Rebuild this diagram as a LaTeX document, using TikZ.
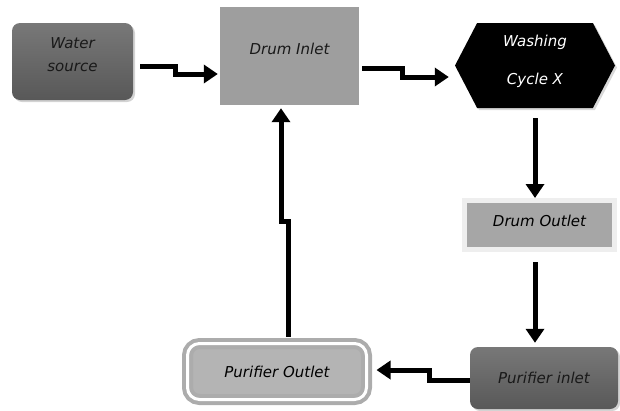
\documentclass[tikz,border=0pt]{standalone}
\usepackage{fontspec}
\setmainfont{DejaVu Sans}
\usetikzlibrary{arrows.meta,positioning,shapes.symbols,shadows}

\definecolor{srctop}{RGB}{120,120,120}
\definecolor{srcbot}{RGB}{88,88,88}
\definecolor{drumgray}{RGB}{158,158,158}
\definecolor{outgray}{RGB}{166,166,166}
\definecolor{framelight}{RGB}{238,238,238}
\definecolor{ringgray}{RGB}{172,172,172}
\definecolor{puregray}{RGB}{180,180,180}

\begin{document}
\begin{tikzpicture}[x=1pt,y=1pt,>={Triangle[width=18pt,length=14pt]},
                    font=\fontsize{15}{18}\selectfont\itshape]
  \tikzset{flow/.style={->,line width=5pt,black},
           darkbox/.style={rounded corners=8pt,top color=srctop,bottom color=srcbot,
                           text=black!90,align=center,
                           drop shadow={opacity=0.35,shadow xshift=2pt,shadow yshift=-2pt}}}
  \useasboundingbox (0,0) rectangle (620,-410);

  \node[darkbox,minimum width=121pt,minimum height=77pt,text depth=14pt]
        (water) at (72.5,-61.5) {Water\\[5pt]source};
  \node[fill=drumgray,text=black!90,minimum width=139pt,minimum height=98pt,
        text depth=14pt]
        (inlet) at (289.5,-56) {Drum Inlet};
  \node[signal,signal to=west and east,signal pointer angle=125,fill=black,
        text=white,align=center,inner sep=0pt,text depth=12pt,
        minimum width=160pt,minimum height=85pt,
        drop shadow={opacity=0.3,shadow xshift=2pt,shadow yshift=-2pt}]
        (wash) at (535,-65.5) {Washing\\[20pt]Cycle X};
  \node[fill=outgray,draw=framelight,line width=5pt,text=black,text depth=8pt,
        minimum width=150pt,minimum height=49pt,
        drop shadow={opacity=0.3,shadow xshift=2pt,shadow yshift=-2pt}]
        (outlet) at (539.5,-225) {Drum Outlet};
  \node[darkbox,minimum width=148pt,minimum height=62pt]
        (purin) at (544,-378) {Purifier inlet};
  \node[fill=puregray,draw=ringgray,double=white,double distance=3pt,
        line width=4pt,rounded corners=12pt,text=black,
        minimum width=179pt,minimum height=56pt]
        (purout) at (277,-371.5) {Purifier Outlet};

  % connectors
  \draw[flow] ([xshift=7pt,yshift=-4.5pt]water.east) -- ++(35pt,0)
        -- ++(0,-8pt) -- ([xshift=-2pt,yshift=-18pt]inlet.west);
  \draw[flow] ([xshift=3pt,yshift=-12pt]inlet.east) -- ++(40pt,0)
        -- ++(0,-9pt) -- ([xshift=-6pt,yshift=-11.5pt]wash.west);
  \draw[flow,shorten <=10pt] (wash.south) -- (wash.south |- outlet.north);
  \draw[flow,shorten <=10pt,shorten >=4pt] (wash.south |- outlet.south)
        -- (wash.south |- purin.north);
  \draw[flow] ([yshift=-2pt]purin.west) -- ++(-40pt,0) -- ++(0,10pt)
        -- ([xshift=8pt,yshift=1.5pt]purout.east);
  \draw[flow] ([xshift=11pt,yshift=5pt]purout.north) -- ++(0,115pt)
        -- ++(-7pt,0) -- ([xshift=-8.5pt,yshift=-3pt]inlet.south);
\end{tikzpicture}
\end{document}
